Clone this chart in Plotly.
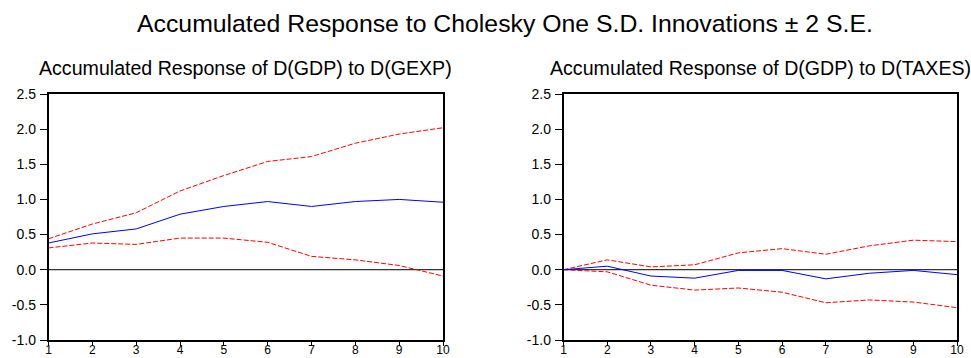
import plotly.graph_objects as go

periods = [1, 2, 3, 4, 5, 6, 7, 8, 9, 10]

gexp_resp = [0.38, 0.51, 0.58, 0.79, 0.90, 0.97, 0.90, 0.97, 1.00, 0.96]
gexp_upper = [0.44, 0.65, 0.81, 1.12, 1.34, 1.54, 1.61, 1.80, 1.93, 2.02]
gexp_lower = [0.31, 0.38, 0.36, 0.45, 0.45, 0.39, 0.19, 0.14, 0.06, -0.09]

taxes_resp = [0.00, 0.05, -0.09, -0.12, -0.01, -0.01, -0.13, -0.05, -0.01, -0.07]
taxes_upper = [0.00, 0.14, 0.04, 0.07, 0.24, 0.30, 0.22, 0.34, 0.42, 0.40]
taxes_lower = [0.00, -0.03, -0.22, -0.29, -0.26, -0.32, -0.47, -0.43, -0.46, -0.54]

y_ticks = [-1.0, -0.5, 0.0, 0.5, 1.0, 1.5, 2.0, 2.5]
y_tick_text = ["-1.0", "-0.5", "0.0", "0.5", "1.0", "1.5", "2.0", "2.5"]

main_title = "Accumulated Response to Cholesky One S.D. Innovations \u00b1 2 S.E."
sub_titles = ["Accumulated Response of D(GDP) to D(GEXP)",
              "Accumulated Response of D(GDP) to D(TAXES)"]

W, H = 971, 358
FONT = "Liberation Sans, Arial, sans-serif"

fig = go.Figure()

panels = [
    (gexp_resp, gexp_upper, gexp_lower, "x", "y"),
    (taxes_resp, taxes_upper, taxes_lower, "x2", "y2"),
]
for resp, up, lo, xa, ya in panels:
    fig.add_trace(go.Scatter(x=periods, y=[0] * len(periods), mode="lines",
                             line=dict(color="black", width=1), xaxis=xa, yaxis=ya,
                             hoverinfo="skip", showlegend=False))
    fig.add_trace(go.Scatter(x=periods, y=up, mode="lines",
                             line=dict(color="#FF0000", width=1, dash="5px,2px"),
                             xaxis=xa, yaxis=ya, showlegend=False))
    fig.add_trace(go.Scatter(x=periods, y=lo, mode="lines",
                             line=dict(color="#FF0000", width=1, dash="5px,2px"),
                             xaxis=xa, yaxis=ya, showlegend=False))
    fig.add_trace(go.Scatter(x=periods, y=resp, mode="lines",
                             line=dict(color="#0000FF", width=1),
                             xaxis=xa, yaxis=ya, showlegend=False))

y_dom = [(H - 340) / H, (H - 94) / H]
x_doms = [[48.5 / W, 443 / W], [563.5 / W, 957 / W]]

axis_common = dict(showgrid=False, zeroline=False, showline=True, mirror=True,
                   linecolor="black", linewidth=1.5, ticks="outside",
                   tickcolor="black", tickwidth=1, automargin=False)

layout = dict(
    template="none",
    width=W, height=H,
    margin=dict(l=0, r=0, t=0, b=0),
    paper_bgcolor="white", plot_bgcolor="white",
    showlegend=False,
)
for i, suf in enumerate(["", "2"]):
    layout["xaxis" + suf] = dict(axis_common, domain=x_doms[i], range=[1, 10],
                                 tickvals=periods, ticklen=4, ticklabelstandoff=-6,
                                 tickfont=dict(family=FONT, size=12, color="black"),
                                 anchor="y" + suf)
    layout["yaxis" + suf] = dict(axis_common, domain=y_dom, range=[-1.0, 2.5],
                                 tickvals=y_ticks, ticktext=y_tick_text, ticklen=7,
                                 ticklabelstandoff=1,
                                 tickfont=dict(family=FONT, size=14, color="black"),
                                 anchor="x" + suf)
fig.update_layout(**layout)

fig.add_annotation(text=main_title, xref="paper", yref="paper",
                   x=504.5 / W, y=1 - 23 / H, xanchor="center", yanchor="middle",
                   showarrow=False, font=dict(family=FONT, size=24.8, color="black"))
for i, t in enumerate(sub_titles):
    cx = (x_doms[i][0] + x_doms[i][1]) / 2
    fig.add_annotation(text=t, xref="paper", yref="paper",
                       x=cx, y=1 - 68 / H, xanchor="center", yanchor="middle",
                       showarrow=False, font=dict(family=FONT, size=19.6, color="black"))

fig.write_html("out.html")
